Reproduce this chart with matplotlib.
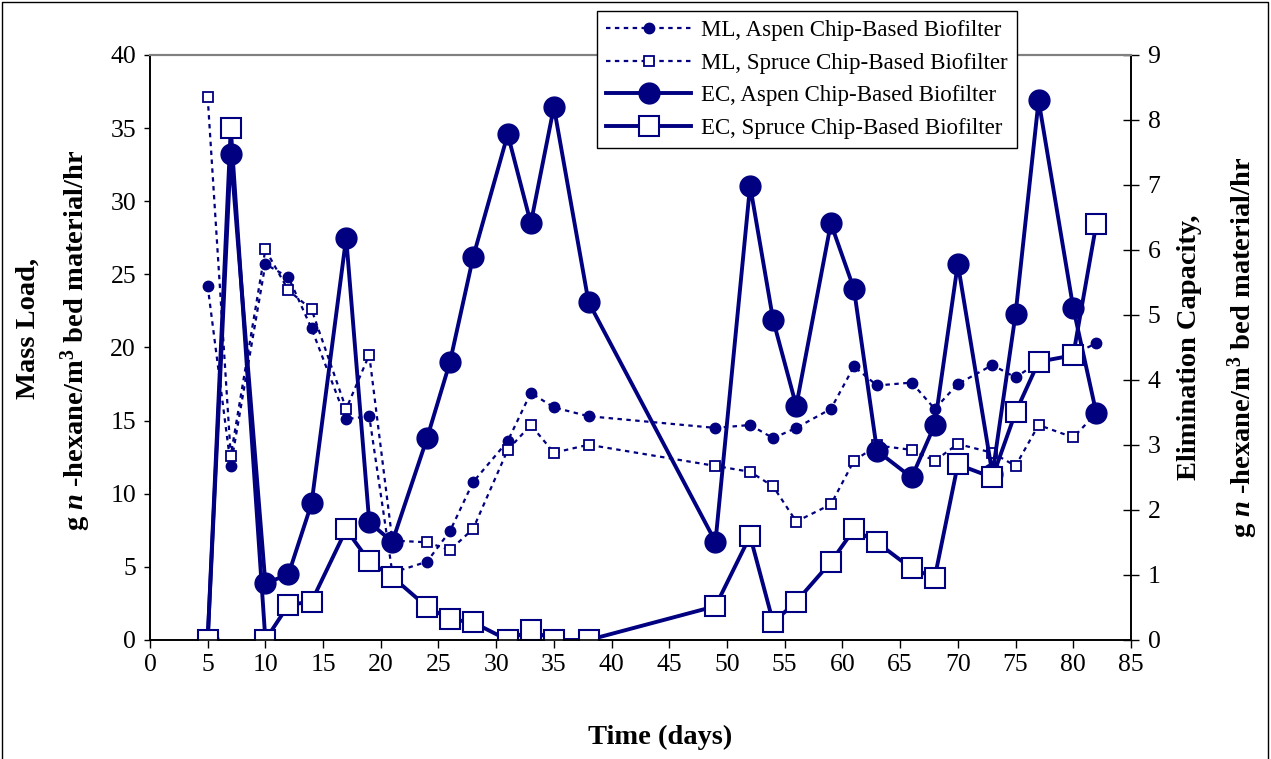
import matplotlib
matplotlib.use('Agg')
import matplotlib.pyplot as plt
from matplotlib.lines import Line2D

# Fuente tipo Times y mathtext en negrita para las etiquetas de ejes
plt.rcParams['font.family'] = 'Liberation Serif'
plt.rcParams['mathtext.fontset'] = 'custom'
plt.rcParams['mathtext.rm'] = 'Liberation Serif:bold'
plt.rcParams['mathtext.it'] = 'Liberation Serif:italic:bold'
plt.rcParams['mathtext.bf'] = 'Liberation Serif:bold'

dias = [5, 7, 10, 12, 14, 17, 19, 21, 24, 26, 28, 31, 33, 35, 38,
        49, 52, 54, 56, 59, 61, 63, 66, 68, 70, 73, 75, 77, 80, 82]

# Mass Load (eje izquierdo)
ml_aspen = [24.2, 11.9, 25.7, 24.8, 21.3, 15.1, 15.3, 4.6, 5.35, 7.45, 10.8, 13.6, 16.9, 15.9, 15.3,
            14.5, 14.7, 13.8, 14.5, 15.8, 18.7, 17.4, 17.6, 15.8, 17.5, 18.8, 17.95, 19.0, 19.5, 20.3]
ml_spruce = [37.1, 12.6, 26.7, 23.9, 22.6, 15.8, 19.5, 6.8, 6.68, 6.15, 7.6, 13.0, 14.7, 12.8, 13.35,
             11.9, 11.5, 10.5, 8.1, 9.27, 12.25, 13.3, 13.0, 12.25, 13.4, 12.8, 11.9, 14.7, 13.85, 15.5]

# Elimination Capacity (eje derecho)
ec_aspen = [0, 7.48, 0.87, 1.01, 2.10, 6.19, 1.81, 1.51, 3.10, 4.28, 5.89, 7.78, 6.41, 8.20, 5.20,
            1.51, 6.99, 4.92, 3.60, 6.41, 5.40, 2.91, 2.50, 3.31, 5.79, 2.55, 5.01, 8.30, 5.11, 3.49]
ec_spruce = [0, 7.87, 0, 0.54, 0.59, 1.70, 1.21, 0.97, 0.51, 0.32, 0.27, 0, 0.15, 0, 0,
             0.52, 1.60, 0.27, 0.59, 1.20, 1.70, 1.50, 1.10, 0.96, 2.70, 2.50, 3.50, 4.28, 4.38, 6.40]

etiquetas = ['ML, Aspen Chip-Based Biofilter', 'ML, Spruce Chip-Based Biofilter',
             'EC, Aspen Chip-Based Biofilter', 'EC, Spruce Chip-Based Biofilter']

azul = '#000080'

fig = plt.figure(figsize=(12.71, 7.59), dpi=100)
ax = fig.add_axes([0.118, 0.1568, 0.7718, 0.7708])
ax2 = ax.twinx()

l1, = ax.plot(dias, ml_aspen, color=azul, lw=1.6, dashes=(2, 2), marker='o', ms=7.5,
              mfc=azul, mec=azul, label=etiquetas[0])
l2, = ax.plot(dias, ml_spruce, color=azul, lw=1.6, dashes=(2, 2), marker='s', ms=7,
              mfc='white', mec=azul, mew=1.3, label=etiquetas[1])
l3, = ax2.plot(dias, ec_aspen, color=azul, lw=2.8, marker='o', ms=15,
               mfc=azul, mec=azul, label=etiquetas[2])
l4, = ax2.plot(dias, ec_spruce, color=azul, lw=2.8, marker='s', ms=14,
               mfc='white', mec=azul, mew=1.5, label=etiquetas[3])

ax.set_xlim(0, 85)
ax.set_ylim(0, 40)
ax2.set_ylim(0, 9)
ax.set_xticks(range(0, 86, 5))
ax.set_yticks(range(0, 41, 5))
ax2.set_yticks(range(0, 10))

ax.tick_params(axis='x', direction='out', length=6, width=1, labelsize=18.5, pad=4)
ax.tick_params(axis='y', direction='out', length=4, width=1, labelsize=18.5, pad=6)
ax2.tick_params(axis='y', direction='inout', length=12, width=1, labelsize=18.5, pad=6)

for a in (ax, ax2):
    a.spines['top'].set_color('#808080')
    a.spines['top'].set_linewidth(1.5)
    for s in ('left', 'right', 'bottom'):
        a.spines[s].set_linewidth(1.2)

# Etiquetas de ejes
tam = 20.5
fig.text(660 / 1271, 1 - 737 / 759, 'Time (days)', ha='center', va='center',
         fontsize=tam, fontweight='bold')
fig.text(28 / 1271, 1 - 328 / 759, 'Mass Load,', rotation=90, ha='center', va='center',
         fontsize=tam, fontweight='bold')
fig.text(76 / 1271, 1 - 340 / 759, 'g $n$ -hexane/m$^3$ bed material/hr', rotation=90,
         ha='center', va='center', fontsize=tam, fontweight='bold')
fig.text(1190 / 1271, 1 - 347 / 759, 'Elimination Capacity,', rotation=90, ha='center',
         va='center', fontsize=tam, fontweight='bold')
fig.text(1243 / 1271, 1 - 347 / 759, 'g $n$ -hexane/m$^3$ bed material/hr', rotation=90,
         ha='center', va='center', fontsize=tam, fontweight='bold')

leg = ax2.legend(handles=[l1, l2, l3, l4], loc='upper left', bbox_to_anchor=(597 / 1271, 1 - 11 / 759),
                 bbox_transform=fig.transFigure, borderaxespad=0, fontsize=16.5, handlelength=3.7,
                 handletextpad=0.45, labelspacing=0.5, borderpad=0.4, fancybox=False,
                 framealpha=1, edgecolor='black')
leg.get_frame().set_linewidth(1.0)

# Marco del área del gráfico
fig.add_artist(Line2D([0.0015, 0.0015, 0.998, 0.998], [0, 0.997, 0.997, 0],
                      transform=fig.transFigure, color='black', lw=1))

fig.savefig('out.png', dpi=100)
